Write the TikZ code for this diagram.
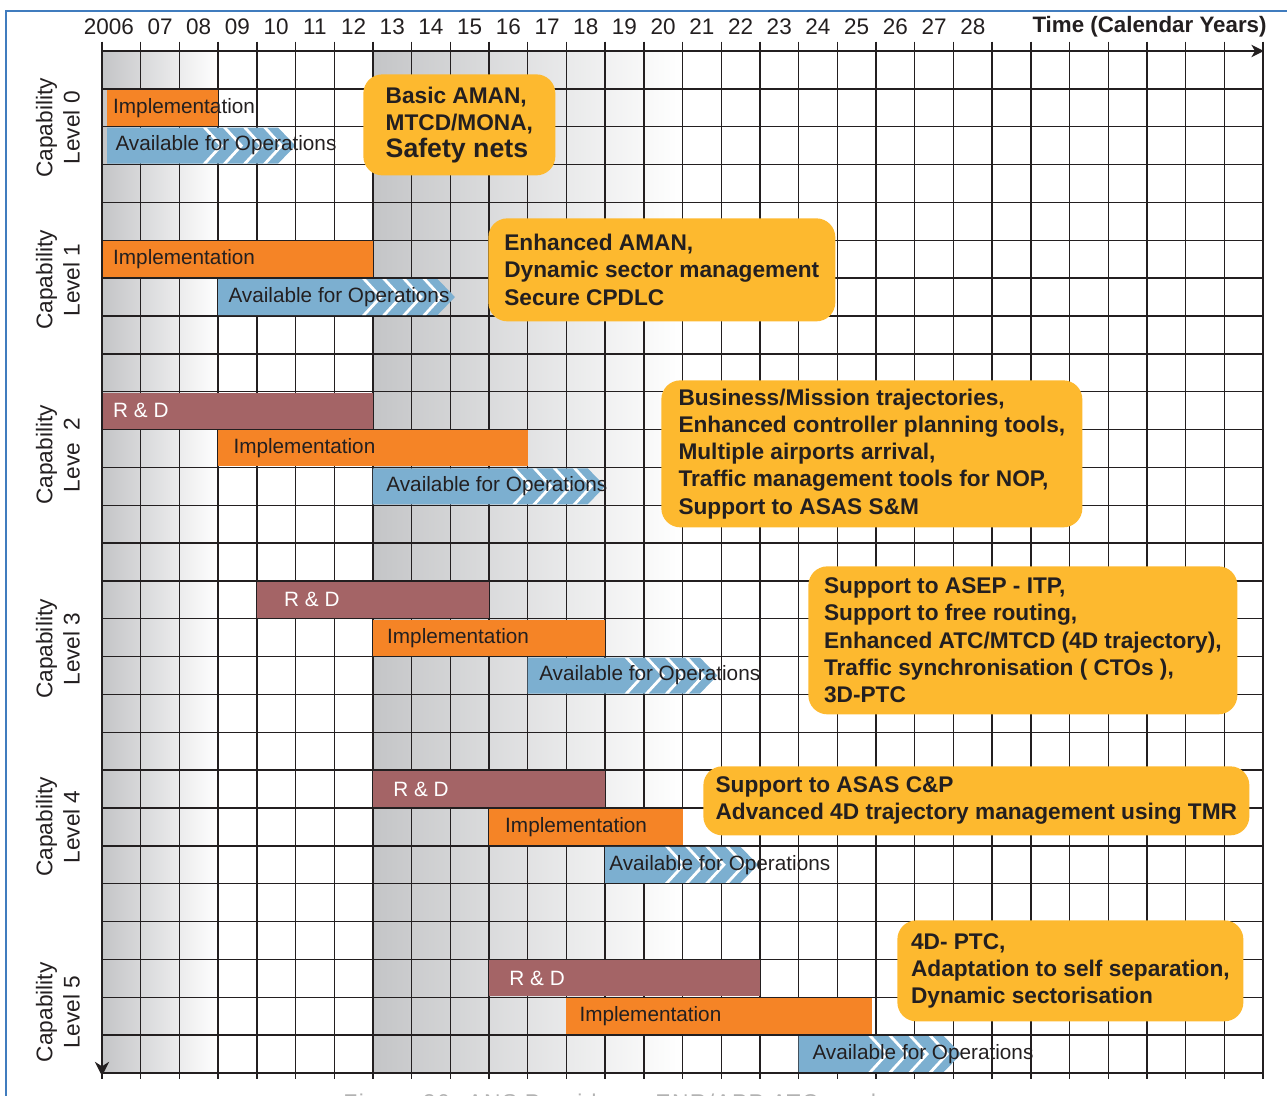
\documentclass[tikz,border=0pt]{standalone}
\usepackage{fontspec}
\setmainfont{Liberation Sans}
\usetikzlibrary{arrows.meta}

\definecolor{implorange}{RGB}{245,132,38}
\definecolor{availblue}{RGB}{124,175,208}
\definecolor{rdred}{RGB}{164,100,102}
\definecolor{capyellow}{RGB}{253,185,47}
\definecolor{inkgray}{RGB}{35,31,32}
\definecolor{shadegray}{RGB}{196,197,199}
\definecolor{frameblue}{RGB}{64,124,190}

% bars: start, end, row
\newcommand{\rdbar}[3]{\fill[rdred] (#1,#3+0.025) rectangle (#2,#3+0.975);}
\newcommand{\implbar}[3]{\fill[implorange] (#1,#3+0.025) rectangle (#2,#3+0.975);}
\newcommand{\availbar}[3]{%
  \fill[availblue] (#1,#3+0.025) -- (#2-0.45,#3+0.025) -- (#2,#3+0.5) -- (#2-0.45,#3+0.975) -- (#1,#3+0.975) -- cycle;
  \begin{scope}
    \clip (#1,#3+0.025) -- (#2-0.45,#3+0.025) -- (#2,#3+0.5) -- (#2-0.45,#3+0.975) -- (#1,#3+0.975) -- cycle;
    \foreach \k in {0,...,3}
      \draw[chevline] (#2-0.81-0.52*\k,#3) -- (#2-0.36-0.52*\k,#3+0.5) -- (#2-0.81-0.52*\k,#3+1);
  \end{scope}}

\begin{document}
\begin{tikzpicture}[x=0.774cm, y=-0.757cm,
  gridline/.style={draw=inkgray, line width=0.8pt},
  axisline/.style={draw=inkgray, line width=1.5pt},
  chevline/.style={draw=white, line width=1.6pt},
  phasetext/.style={anchor=west, inner sep=0, text=inkgray, font=\fontsize{11.8}{14}\selectfont},
  rdtext/.style={phasetext, text=white},
  yearlabel/.style={inner sep=0, text=inkgray, font=\fontsize{12.8}{15}\selectfont},
  levellabel/.style={rotate=90, align=center, inner sep=0, text=inkgray, font=\fontsize{12.9}{15.4}\selectfont},
  capbox/.style={fill=capyellow, rounded corners=0.38cm, align=left, inner sep=0, anchor=north west, text=inkgray, font=\bfseries\fontsize{12.9}{15.5}\selectfont}]
\useasboundingbox (-2.6357,-1.3474) rectangle (30.620,27.583);
% frame
\draw[frameblue, line width=0.9pt] (-2.48,28) -- (-2.48,-1.057) -- (31,-1.057);
% shaded years
\shade[left color=shadegray, right color=white] (0,0) rectangle (3,27);
\shade[left color=shadegray, right color=white] (7,0) rectangle (15,27);
% grid with ticks
\foreach \k in {0,...,30} \draw[gridline] (\k,-0.25) -- (\k,27.15);
\foreach \r in {1,...,26} \draw[gridline] (0,\r) -- (30,\r);

% level 0
\implbar{0.13}{3}{1}
\availbar{0.13}{5}{2}
\node[phasetext] (impl0) at (0.28,1.5) {Implementation};
\node[phasetext] (avail0) at (0.34,2.5) {Available for Operations};
% level 1
\implbar{0}{7}{5}
\availbar{3}{9.12}{6}
\node[phasetext] (impl1) at (0.28,5.5) {Implementation};
\node[phasetext] (avail1) at (3.26,6.5) {Available for Operations};
% level 2
\rdbar{0}{7}{9}
\implbar{3}{11}{10}
\availbar{7}{13}{11}
\node[rdtext] (rd2) at (0.28,9.5) {R \& D};
\node[phasetext] (impl2) at (3.39,10.5) {Implementation};
\node[phasetext] (avail2) at (7.34,11.5) {Available for Operations};
% level 3
\rdbar{4}{10}{14}
\implbar{7}{13}{15}
\availbar{11}{15.9}{16}
\node[rdtext] (rd3) at (4.70,14.5) {R \& D};
\node[phasetext] (impl3) at (7.36,15.5) {Implementation};
\node[phasetext] (avail3) at (11.29,16.5) {Available for Operations};
% level 4
\rdbar{7}{13}{19}
\implbar{10}{15}{20}
\availbar{13}{16.95}{21}
\node[rdtext] (rd4) at (7.52,19.5) {R \& D};
\node[phasetext] (impl4) at (10.41,20.5) {Implementation};
\node[phasetext] (avail4) at (13.10,21.5) {Available for Operations};
% level 5
\rdbar{10}{17}{24}
\implbar{12}{19.9}{25}
\availbar{18}{22.2}{26}
\node[rdtext] (rd5) at (10.52,24.5) {R \& D};
\node[phasetext] (impl5) at (12.33,25.5) {Implementation};
\node[phasetext] (avail5) at (18.35,26.5) {Available for Operations};

% axes
\draw[axisline, -{Stealth[length=7pt,width=7pt,inset=2pt]}] (0,0) -- (30.02,0);
\draw[axisline] (0,27) -- (30,27);
\draw[axisline, -{Stealth[length=8pt,width=8pt,inset=2.5pt]}] (0,0) -- (0,27.08);

% years
\node[yearlabel] (year0) at (0.5,-0.634) {\llap{20}06};
\foreach \yr [count=\k] in {07,08,09,10,11,12,13,14,15,16,17,18,19,20,21,22,23,24,25,26,27,28}
  \node[yearlabel] (year\k) at (\k+0.5,-0.634) {\yr};
\node[yearlabel, anchor=east, font=\bfseries\fontsize{12.7}{15}\selectfont] (timelabel) at (30.1,-0.634) {Time (Calendar Years)};

% capability levels
\node[levellabel] (level0) at (-1.14,2.03) {Capability\\Level 0};
\node[levellabel] (level1) at (-1.14,6.05) {Capability\\Level 1};
\node[levellabel] (level2) at (-1.14,10.67) {Capability\\Leve\ \ 2};
\node[levellabel] (level3) at (-1.14,15.8) {Capability\\Level 3};
\node[levellabel] (level4) at (-1.14,20.5) {Capability\\Level 4};
\node[levellabel] (level5) at (-1.14,25.4) {Capability\\Level 5};

% capability boxes
\node[capbox, minimum width=3.84cm, minimum height=2.02cm] (cap0) at (6.744,0.608)
  {Basic AMAN,\\MTCD/MONA,\\{\fontsize{15.2}{17}\selectfont Safety nets}};
\node[capbox, minimum width=6.94cm, minimum height=2.06cm] (cap1) at (9.974,4.412)
  {Enhanced AMAN,\\Dynamic sector management\\Secure CPDLC};
\node[capbox, minimum width=8.42cm, minimum height=2.94cm] (cap2) at (14.444,8.692)
  {Business/Mission trajectories,\\Enhanced controller planning tools,\\Multiple airports arrival,\\Traffic management tools for NOP,\\Support to ASAS S\&M};
\node[capbox, minimum width=8.58cm, minimum height=2.96cm] (cap3) at (18.243,13.606)
  {Support to ASEP - ITP,\\Support to free routing,\\Enhanced ATC/MTCD (4D trajectory),\\Traffic synchronisation ( CTOs ),\\3D-PTC};
\node[capbox, minimum width=10.92cm, minimum height=1.38cm] (cap4) at (15.530,18.890)
  {Support to ASAS C\&P\\Advanced 4D trajectory management using TMR};
\node[capbox, minimum width=6.92cm, minimum height=2.02cm] (cap5) at (20.543,22.959)
  {4D- PTC,\\Adaptation to self separation,\\Dynamic sectorisation};

% caption, cut by the page edge
\node[anchor=base west, inner sep=0, text=gray!60, font=\fontsize{13}{15}\selectfont\addfontfeature{LetterSpace=6}] (caption) at (6.23,28.0) {Figure 26: ANS Providers - ENR/APP ATC roadmap};
\end{tikzpicture}
\end{document}
